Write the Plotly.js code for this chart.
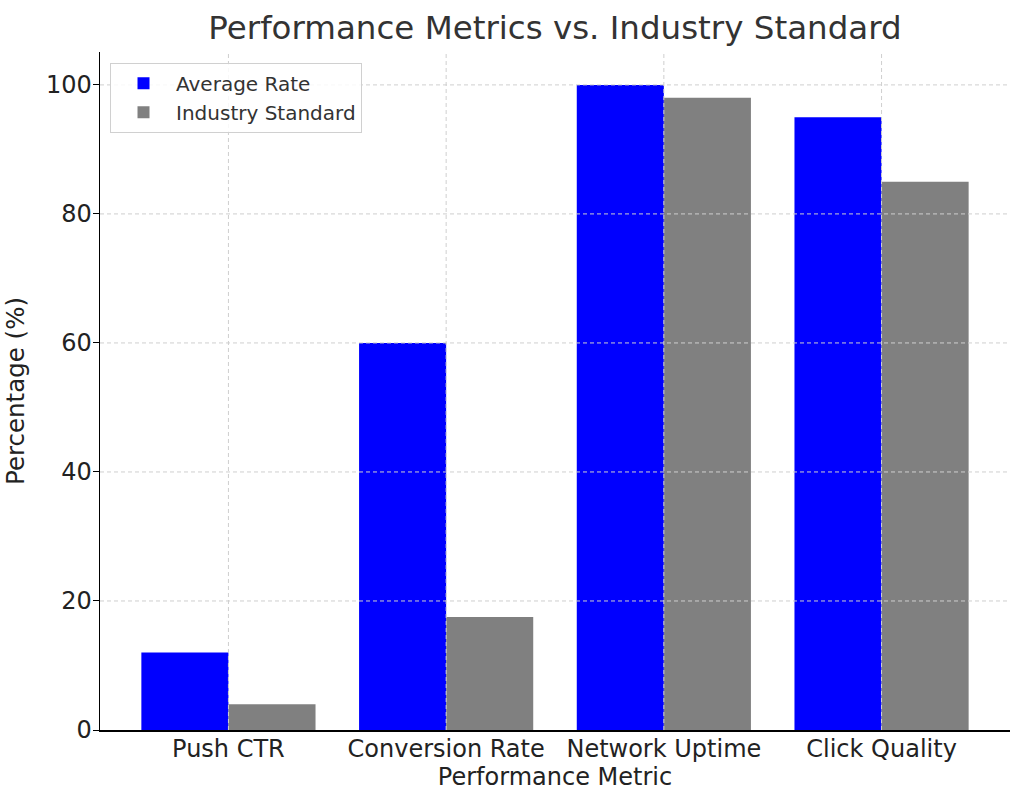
<!DOCTYPE html>
<html>
<head>
<meta charset="utf-8">
<script src="https://cdn.plot.ly/plotly-3.0.1.min.js"></script>
<style>
  html, body { margin: 0; padding: 0; background: #fff; }
  #chart { width: 1024px; height: 807px; }
</style>
</head>
<body>
<div id="chart"></div>
<script>
// values
const metrics = ['Push CTR', 'Conversion Rate', 'Network Uptime', 'Click Quality'];
const averageRate = [12, 60, 100, 95];
const industryStandard = [4, 17.5, 98, 85];
const yTicks = [0, 20, 40, 60, 80, 100];

const FONT = 'DejaVu Sans, sans-serif';
const GRID = '#cfcfcf';

const traces = [
    { x: metrics, y: averageRate, type: 'bar', name: 'Average Rate', marker: { color: '#0000ff' } },
    { x: metrics, y: industryStandard, type: 'bar', name: 'Industry Standard', marker: { color: '#808080' } },
];

// matplotlib draws the grid on top of the bars here, so use shapes above traces
const gridShapes = [];
yTicks.slice(1).forEach(v => gridShapes.push({
    type: 'line', xref: 'paper', x0: 0, x1: 1, yref: 'y', y0: v, y1: v, layer: 'above',
    line: { color: GRID, width: 1, dash: '4px,3px' },
}));
metrics.forEach((m, i) => gridShapes.push({
    type: 'line', xref: 'x', x0: i, x1: i, yref: 'paper', y0: 0, y1: 1, layer: 'above',
    line: { color: GRID, width: 1, dash: '4px,3px' },
}));

const layout = {
    width: 1024, height: 807,
    margin: { l: 100, r: 14, t: 52, b: 77 },
    paper_bgcolor: '#fff', plot_bgcolor: '#fff',
    font: { family: FONT, color: '#222', size: 24 },
    title: { text: 'Performance Metrics vs. Industry Standard', font: { size: 32.5, color: '#333' }, x: 0.542, xanchor: 'center', y: 0.966, yanchor: 'middle' },
    barmode: 'group', bargap: 0.2, bargroupgap: 0,
    xaxis: {
        type: 'category', range: [-0.59, 3.59], showgrid: false, zeroline: false,
        showline: true, linecolor: '#000', linewidth: 1.5,
        ticks: '', ticklen: 0, ticklabelstandoff: -3, tickfont: { size: 24, color: '#222' },
        title: { text: 'Performance Metric', font: { size: 24, color: '#222' }, standoff: 0 },
    },
    yaxis: {
        range: [0, 105.1], tickvals: yTicks, showgrid: false, zeroline: false,
        showline: true, linecolor: '#000', linewidth: 1.5,
        ticks: 'outside', ticklen: 6, tickcolor: '#000', ticklabelstandoff: -4, tickfont: { size: 24, color: '#222' },
        title: { text: 'Percentage (%)', font: { size: 24.5, color: '#222' }, standoff: 14 },
    },
    legend: {
        x: 0.011, y: 0.984, xanchor: 'left', yanchor: 'top',
        bgcolor: 'rgba(255,255,255,0.85)', bordercolor: '#d0d0d0', borderwidth: 1,
        font: { size: 20, color: '#333' }, itemwidth: 55, tracegroupgap: 2,
    },
    shapes: gridShapes,
    showlegend: true,
};

Plotly.newPlot('chart', traces, layout, { displayModeBar: false, staticPlot: true });
</script>
</body>
</html>
